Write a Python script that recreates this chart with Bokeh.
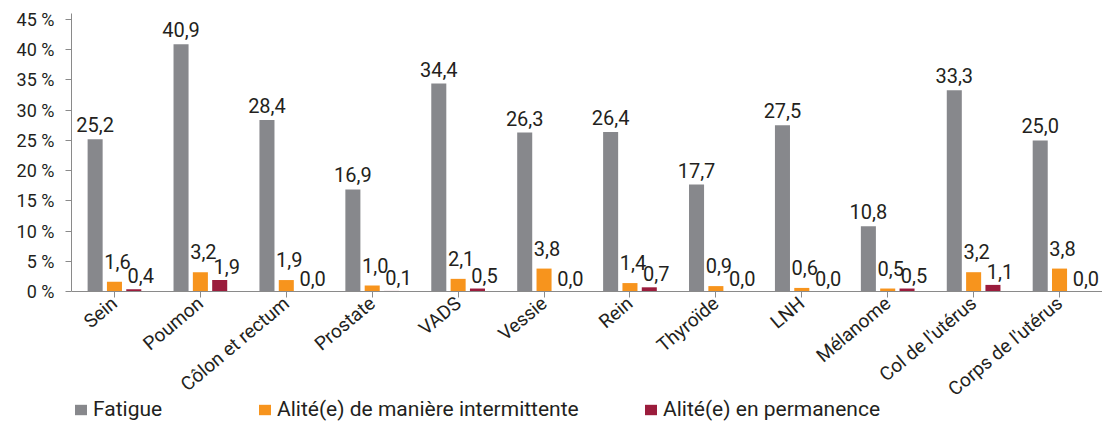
import math
from bokeh.plotting import figure
from bokeh.models import ColumnDataSource, FactorRange, FixedTicker, LabelSet, Legend, LegendItem
from bokeh.core.properties import value
from bokeh.transform import dodge
from bokeh.embed import file_html
from bokeh.resources import INLINE

categories = ["Sein", "Poumon", "Côlon et rectum", "Prostate", "VADS", "Vessie", "Rein",
              "Thyroïde", "LNH", "Mélanome", "Col de l'utérus", "Corps de l'utérus"]
fatigue = [25.2, 40.9, 28.4, 16.9, 34.4, 26.3, 26.4, 17.7, 27.5, 10.8, 33.3, 25.0]
intermittent = [1.6, 3.2, 1.9, 1.0, 2.1, 3.8, 1.4, 0.9, 0.6, 0.5, 3.2, 3.8]
permanent = [0.4, 1.9, 0.0, 0.1, 0.5, 0.0, 0.7, 0.0, 0.0, 0.5, 1.1, 0.0]
series_names = ["Fatigue", "Alité(e) de manière intermittente", "Alité(e) en permanence"]
y_ticks = [0, 5, 10, 15, 20, 25, 30, 35, 40, 45]

GRAY = "#87888c"
ORANGE = "#f7941d"
RED = "#9b1c3c"
TXT = "#231f20"
AX = "#8a8a8a"
FONT = "Roboto"

def fmt(v):
    return f"{v:.1f}".replace(".", ",")

src = ColumnDataSource(dict(
    cat=categories,
    fatigue=fatigue, intermittent=intermittent, permanent=permanent,
    l_f=[fmt(v) for v in fatigue],
    l_i=[fmt(v) for v in intermittent],
    l_p=[fmt(v) for v in permanent],
))

# frame extends below the zero line so that the rotated labels and legend sit inside it
Y_TOP = 46
Y_BOTTOM = -21.5
p = figure(frame_width=1031, frame_height=408, x_range=FactorRange(*categories, range_padding=0),
           y_range=(Y_BOTTOM, Y_TOP), output_backend="svg", toolbar_location=None,
           min_border_left=71, min_border_top=13, min_border_right=0, min_border_bottom=0)
p.outline_line_color = None
p.xgrid.grid_line_color = None
p.ygrid.grid_line_color = None

W = 0.175
OFF = 0.225
r1 = p.vbar(x=dodge("cat", -OFF, range=p.x_range), top="fatigue", width=W, source=src,
            fill_color=GRAY, line_color=None)
r2 = p.vbar(x=dodge("cat", 0, range=p.x_range), top="intermittent", width=W, source=src,
            fill_color=ORANGE, line_color=None)
r3 = p.vbar(x=dodge("cat", OFF, range=p.x_range), top="permanent", width=W, source=src,
            fill_color=RED, line_color=None)

lab_kw = dict(source=src, text_font=value(FONT), text_font_size="20px", text_color=TXT,
              text_align="center", text_baseline="alphabetic")
p.add_layout(LabelSet(x=dodge("cat", -OFF, range=p.x_range), y="fatigue", text="l_f",
                      y_offset=7, **lab_kw))
p.add_layout(LabelSet(x=dodge("cat", 0, range=p.x_range), y="intermittent", text="l_i",
                      x_offset=3, y_offset=13, **lab_kw))
p.add_layout(LabelSet(x=dodge("cat", OFF, range=p.x_range), y="permanent", text="l_p",
                      x_offset=7, y_offset=6, **lab_kw))

# y axis
p.yaxis.ticker = FixedTicker(ticks=y_ticks)
p.yaxis.bounds = (0, Y_TOP)
p.yaxis.major_label_overrides = {t: f"{t} %" for t in y_ticks}
p.yaxis.major_label_text_font = FONT
p.yaxis.major_label_text_font_size = "18px"
p.yaxis.major_label_text_color = TXT
p.yaxis.major_label_standoff = 11
p.yaxis.axis_line_color = AX
p.yaxis.major_tick_line_color = AX
p.yaxis.major_tick_out = 6
p.yaxis.major_tick_in = 0
p.yaxis.minor_tick_line_color = None

# x axis, drawn at the zero line
p.xaxis.fixed_location = 0
p.xaxis.major_label_orientation = math.radians(40)
p.xaxis.major_label_text_font = FONT
p.xaxis.major_label_text_font_size = "19px"
p.xaxis.major_label_text_color = TXT
p.xaxis.major_label_standoff = 3
p.xaxis.axis_line_color = AX
p.xaxis.major_tick_line_color = AX
p.xaxis.major_tick_out = 6
p.xaxis.major_tick_in = 0

leg_kw = dict(orientation="horizontal",
              label_text_font=FONT, label_text_font_size="21px", label_text_color=TXT,
              glyph_width=15, glyph_height=13, label_standoff=5,
              padding=0, margin=0, border_line_color=None, background_fill_alpha=0)
for r, name, xpos in zip([r1, r2, r3], series_names, [2, 186, 572]):
    p.add_layout(Legend(items=[LegendItem(label=name, renderers=[r])],
                        location=(xpos, 0), **leg_kw), "center")

open("out.html", "w").write(file_html(p, INLINE))
